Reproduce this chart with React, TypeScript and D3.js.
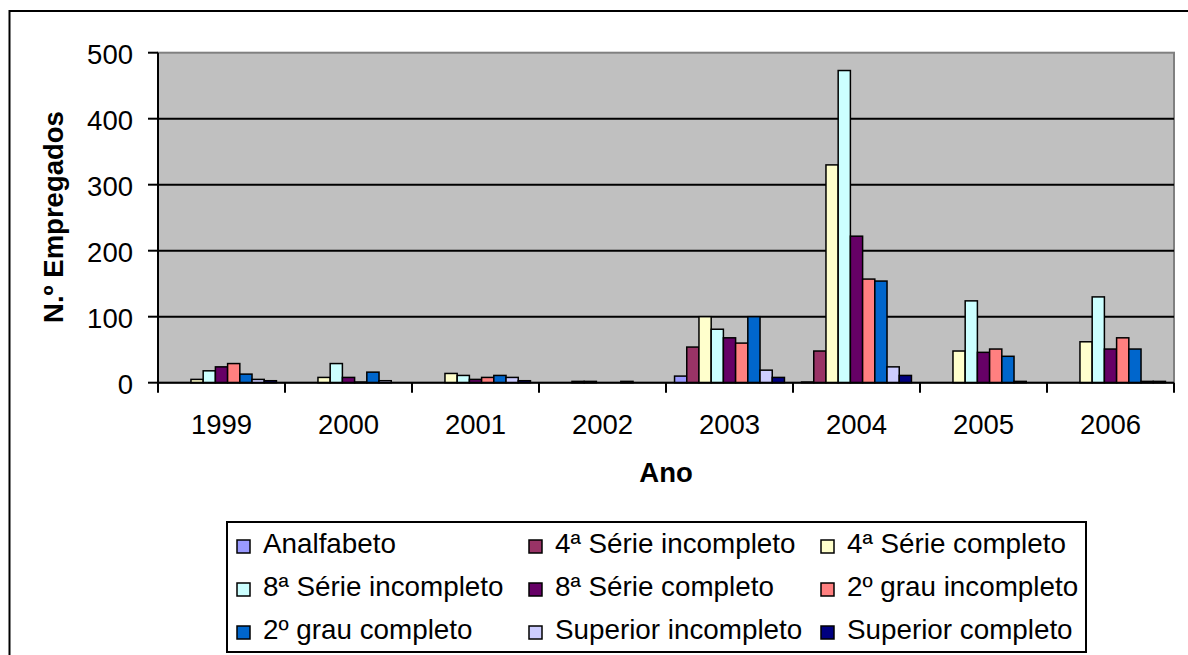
import React from "react";
import * as d3 from "d3";

const years = ["1999", "2000", "2001", "2002", "2003", "2004", "2005", "2006"];
const seriesNames = [
  "Analfabeto",
  "4ª Série incompleto",
  "4ª Série completo",
  "8ª Série incompleto",
  "8ª Série completo",
  "2º grau incompleto",
  "2º grau completo",
  "Superior incompleto",
  "Superior completo",
];
const seriesColors = [
  "#9999FF", "#993366", "#FFFFCC", "#CCFFFF", "#660066",
  "#FF8080", "#0066CC", "#CCCCFF", "#000080",
];

// values per year (1999..2006)
const analfabeto = [0, 0, 0, 0, 10, 1, 0, 0];
const serie4Inc = [0, 0, 0, 0, 54, 48, 0, 0];
const serie4Comp = [5, 8, 14, 2, 100, 330, 48, 62];
const serie8Inc = [18, 29, 11, 2, 81, 473, 124, 130];
const serie8Comp = [24, 8, 5, 0, 68, 222, 46, 51];
const grau2Inc = [29, 1, 8, 0, 60, 157, 51, 68];
const grau2Comp = [13, 16, 11, 2, 100, 154, 40, 51];
const supInc = [5, 3, 8, 0, 19, 24, 2, 2];
const supComp = [3, 0, 3, 0, 8, 11, 0, 2];

const yTicks = [0, 100, 200, 300, 400, 500];

const allSeries = [analfabeto, serie4Inc, serie4Comp, serie8Inc, serie8Comp, grau2Inc, grau2Comp, supInc, supComp];

const W = 1188;
const H = 655;
const plot = { left: 158, right: 1174, top: 52.7, bottom: 382.7 };
const font = "'Liberation Sans', Arial, sans-serif";

export default function App() {
  const x = d3.scaleBand().domain(years).range([plot.left, plot.right]).padding(0);
  const xInner = d3
    .scaleBand()
    .domain(seriesNames)
    .range([0, x.bandwidth()])
    .paddingInner(0)
    .paddingOuter(0.7);
  const y = d3.scaleLinear().domain([0, 500]).range([plot.bottom, plot.top]);

  // group boundaries for x ticks
  const xTickPos = years.map((yr) => x(yr)!).concat([plot.right]);

  const legendCols = [237, 529, 821];
  const legendRows = [553, 596, 639];

  return (
    <div style={{ position: "absolute", left: 0, top: 0 }}>
      <svg width={W} height={H} style={{ display: "block", background: "#fff" }} fontFamily={font}>
        {/* outer chart border */}
        <rect x={9.5} y={11} width={W + 20} height={H + 20} fill="#fff" stroke="#000" strokeWidth={2} />

        {/* plot area */}
        <rect
          x={plot.left}
          y={plot.top}
          width={plot.right - plot.left}
          height={plot.bottom - plot.top}
          fill="#C0C0C0"
          stroke="#808080"
          strokeWidth={2}
        />

        {/* gridlines */}
        {yTicks.filter((t) => t > 0 && t < 500).map((t) => (
          <line key={"g" + t} x1={plot.left} x2={plot.right} y1={y(t)} y2={y(t)} stroke="#000" strokeWidth={2} />
        ))}

        {/* bars */}
        {allSeries.map((vals, si) => (
          <g key={seriesNames[si]}>
            {vals.map((v, yi) =>
              v > 0 ? (
                <rect
                  key={years[yi]}
                  x={x(years[yi])! + xInner(seriesNames[si])!}
                  y={y(v)}
                  width={xInner.bandwidth()}
                  height={y(0) - y(v)}
                  fill={seriesColors[si]}
                  stroke="#000"
                  strokeWidth={1.5}
                />
              ) : null
            )}
          </g>
        ))}

        {/* y axis */}
        <line x1={plot.left} x2={plot.left} y1={plot.top} y2={plot.bottom} stroke="#000" strokeWidth={2} />
        {yTicks.map((t) => (
          <g key={"y" + t}>
            <line x1={plot.left - 10} x2={plot.left} y1={y(t)} y2={y(t)} stroke="#000" strokeWidth={2} />
            <text x={133} y={y(t)} dy="0.42em" textAnchor="end" fontSize={27.5} fill="#000">
              {t}
            </text>
          </g>
        ))}

        {/* x axis */}
        <line x1={plot.left} x2={plot.right} y1={plot.bottom} y2={plot.bottom} stroke="#000" strokeWidth={2} />
        {xTickPos.map((p, i) => (
          <line key={"xt" + i} x1={p} x2={p} y1={plot.bottom} y2={plot.bottom + 10} stroke="#000" strokeWidth={2} />
        ))}
        {years.map((yr) => (
          <text key={"xl" + yr} x={x(yr)! + x.bandwidth() / 2} y={434} textAnchor="middle" fontSize={27.5} fill="#000">
            {yr}
          </text>
        ))}

        {/* axis titles */}
        <text x={(plot.left + plot.right) / 2} y={482} textAnchor="middle" fontSize={27.5} fontWeight="bold" fill="#000">
          Ano
        </text>
        <text
          transform={`translate(63, 217) rotate(-90)`}
          textAnchor="middle"
          fontSize={27.5}
          fontWeight="bold"
          fill="#000"
        >
          N.º Empregados
        </text>

        {/* legend */}
        <rect x={227} y={522} width={859} height={130} fill="#fff" stroke="#000" strokeWidth={2} />
        {seriesNames.map((name, i) => {
          const cx = legendCols[i % 3];
          const cy = legendRows[Math.floor(i / 3)];
          return (
            <g key={"lg" + i}>
              <rect x={cx} y={cy - 13} width={13} height={13} fill={seriesColors[i]} stroke="#000" strokeWidth={1.5} />
              <text x={cx + 26} y={cy} fontSize={27.8} fill="#000">
                {name}
              </text>
            </g>
          );
        })}
      </svg>
    </div>
  );
}
